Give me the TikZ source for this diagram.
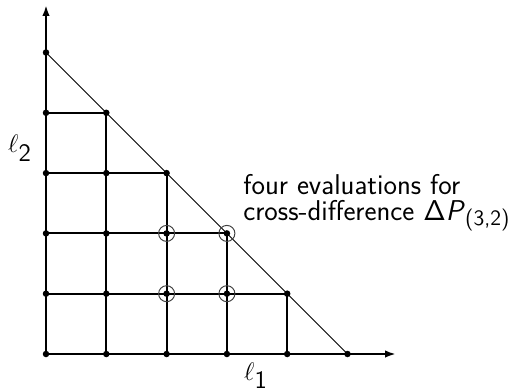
\documentclass[tikz,border=0pt]{standalone}
\usepackage{fontspec}
\usetikzlibrary{arrows.meta}
\begin{document}
\begin{tikzpicture}[x=0.02cm,y=-0.02cm,
  dot/.style={circle,fill=black,inner sep=0pt,minimum size=0.13cm},
  ring/.style={circle,draw=black!75,line width=0.55pt,inner sep=0pt,minimum size=0.32cm},
  gridline/.style={line width=1.1pt},
  axis/.style={line width=1.3pt,-{Latex[length=0.22cm,width=0.15cm]}},
  diag/.style={line width=0.55pt},
  lbl/.style={font=\fontsize{14.3}{17}\selectfont,inner sep=0pt,anchor=base},
  txt/.style={font=\fontsize{16.3}{14.8}\selectfont\sffamily,inner sep=0pt,align=left,anchor=north west}]
\useasboundingbox (0,0) rectangle (526,391);
\foreach \j in {0,...,5}{
  \pgfmathtruncatemacro\m{5-\j}
  \foreach \i in {0,...,\m}{
    \node[dot] (p-\i-\j) at ({46+60.3*\i},{354-60.3*\j}) {};
  }
}
\coordinate (xe) at (396,354);
\coordinate (ye) at (46,5);
% grid lines
\foreach \k in {1,...,4}{
  \pgfmathtruncatemacro\m{5-\k}
  \draw[gridline] (p-0-\k.center) -- (p-\m-\k.center);
  \draw[gridline] (p-\k-0.center) -- (p-\k-\m.center);
}
% diagonal
\draw[diag] (p-0-5.center) -- (p-5-0.center);
% axes
\draw[axis] (p-0-0.center) -- (xe);
\draw[axis] (p-0-0.center) -- (ye);
% rings
\foreach \a/\b in {2/1,3/1,2/2,3/2}{
  \node[ring] (r-\a-\b) at (p-\a-\b) {};
}
% labels
\node[lbl] (l2) at (20,153) {$\ell_{\textsf{2}}$};
\node[lbl] (l1) at (256,380) {$\ell_{\textsf{1}}$};
\node[txt] (t) at (243,174) {four evaluations for\\cross-difference Δ\textit{P}\raisebox{-3pt}{\fontsize{12.5}{14}\selectfont(3,2)}};
\end{tikzpicture}
\end{document}
